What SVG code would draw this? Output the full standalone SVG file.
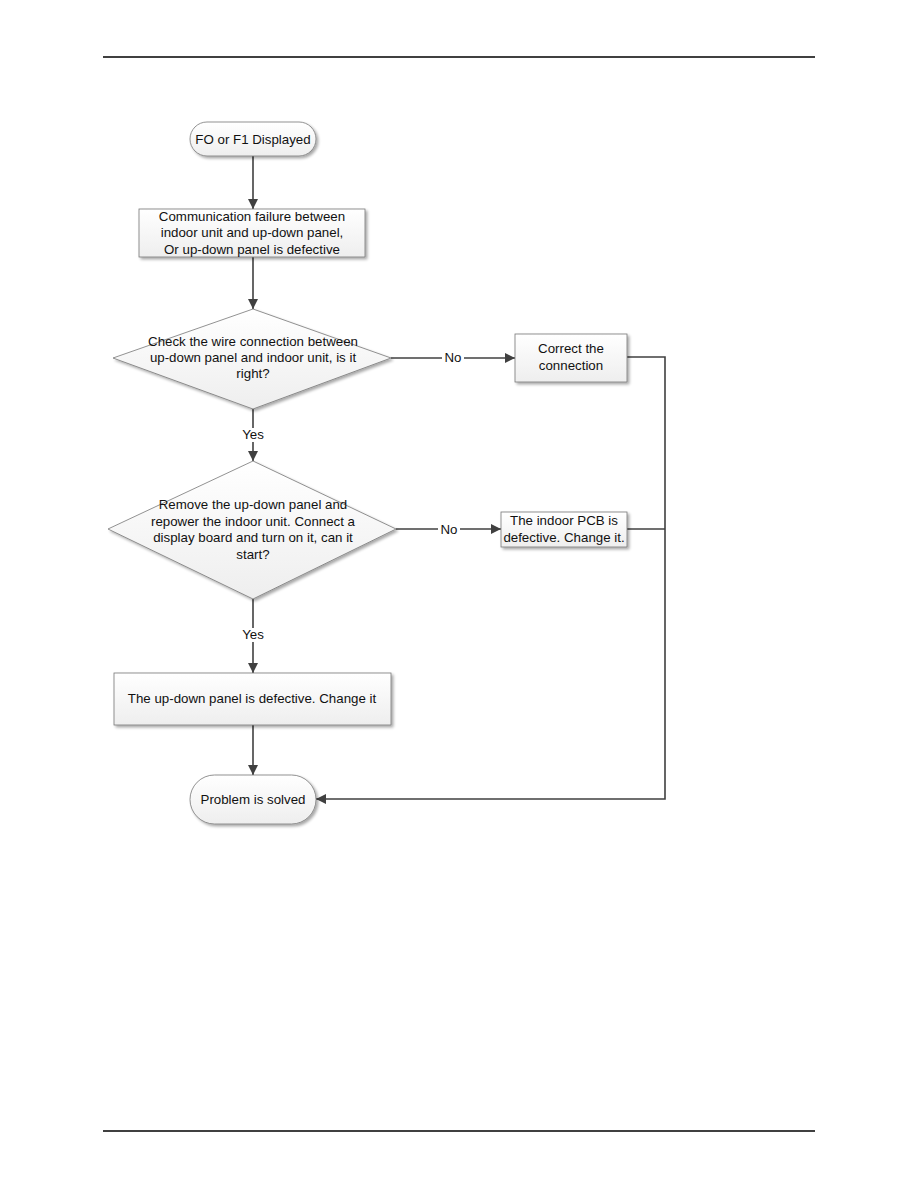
<svg xmlns="http://www.w3.org/2000/svg" width="918" height="1188" viewBox="0 0 918 1188">
<defs>
<linearGradient id="g" x1="0" y1="0" x2="0" y2="1">
<stop offset="0" stop-color="#ffffff"/>
<stop offset="1" stop-color="#eeeeee"/>
</linearGradient>
<filter id="sh" x="-10%" y="-10%" width="130%" height="140%">
<feGaussianBlur in="SourceAlpha" stdDeviation="1.5"/>
<feOffset dx="1.5" dy="2" result="o"/>
<feComponentTransfer><feFuncA type="linear" slope="0.35"/></feComponentTransfer>
<feMerge><feMergeNode/><feMergeNode in="SourceGraphic"/></feMerge>
</filter>
<marker id="ah" viewBox="0 0 10 10" refX="10" refY="5" markerWidth="10" markerHeight="10" markerUnits="userSpaceOnUse" orient="auto">
<path d="M0,0 L10,5 L0,10 z" fill="#404040"/>
</marker>
</defs>
<style>
.n{fill:url(#g);stroke:#777;stroke-width:0.8;filter:url(#sh)}
.t{font-family:"Liberation Sans",Arial,sans-serif;font-size:13.3px;fill:#111;text-anchor:middle}
.c{fill:none;stroke:#404040;stroke-width:1.6}
.lbl{font-family:"Liberation Sans",Arial,sans-serif;font-size:13.3px;fill:#111;text-anchor:middle}
</style>
<line x1="103" y1="57" x2="815" y2="57" stroke="#000" stroke-width="1.6"/>
<line x1="103" y1="1131" x2="815" y2="1131" stroke="#000" stroke-width="1.6"/>

<g id="connectors">
<line class="c" x1="253" y1="156" x2="253" y2="209" marker-end="url(#ah)"/>
<line class="c" x1="253" y1="257" x2="253" y2="309" marker-end="url(#ah)"/>
<line class="c" x1="391" y1="358" x2="515" y2="358" marker-end="url(#ah)"/>
<rect x="442" y="351" width="22" height="14" fill="#fff"/>
<text class="lbl" x="453" y="362">No</text>
<line class="c" x1="253" y1="409" x2="253" y2="461" marker-end="url(#ah)"/>
<rect x="238" y="428" width="30" height="14" fill="#fff"/>
<text class="lbl" x="253" y="439">Yes</text>
<line class="c" x1="396" y1="529" x2="501" y2="529" marker-end="url(#ah)"/>
<rect x="438" y="522" width="22" height="14" fill="#fff"/>
<text class="lbl" x="449" y="534">No</text>
<line class="c" x1="253" y1="599" x2="253" y2="673" marker-end="url(#ah)"/>
<rect x="238" y="628" width="30" height="14" fill="#fff"/>
<text class="lbl" x="253" y="639">Yes</text>
<line class="c" x1="253" y1="725" x2="253" y2="775" marker-end="url(#ah)"/>
<polyline class="c" points="627,357 665,357 665,799 316,799" marker-end="url(#ah)"/>
<line class="c" x1="627" y1="529" x2="665" y2="529"/>
</g>

<g id="start">
<rect class="n" x="190" y="122" width="126" height="34" rx="17" ry="17"/>
<text class="t" x="253" y="144">FO or F1 Displayed</text>
</g>
<g id="comm">
<rect class="n" x="139" y="209" width="226" height="48"/>
<text class="t" x="252" y="221">Communication failure between</text>
<text class="t" x="252" y="237">indoor unit and up-down panel,</text>
<text class="t" x="252" y="254">Or up-down panel is defective</text>
</g>
<g id="check">
<polygon class="n" points="253,309 391,358 253,409 113,358"/>
<text class="t" x="253" y="346">Check the wire connection between</text>
<text class="t" x="253" y="362">up-down panel and indoor unit, is it</text>
<text class="t" x="253" y="378">right?</text>
</g>
<g id="correct">
<rect class="n" x="515" y="334" width="112" height="48"/>
<text class="t" x="571" y="353">Correct the</text>
<text class="t" x="571" y="370">connection</text>
</g>
<g id="remove">
<polygon class="n" points="253,461 396,529 253,599 108,529"/>
<text class="t" x="253" y="509">Remove the up-down panel and</text>
<text class="t" x="253" y="526">repower the indoor unit. Connect a</text>
<text class="t" x="253" y="542">display board and turn on it, can it</text>
<text class="t" x="253" y="559">start?</text>
</g>
<g id="pcb">
<rect class="n" x="501" y="512" width="126" height="35"/>
<text class="t" x="564" y="525">The indoor PCB is</text>
<text class="t" x="564" y="542">defective. Change it.</text>
</g>
<g id="panel">
<rect class="n" x="114" y="673" width="277" height="52"/>
<text class="t" x="252" y="703">The up-down panel is defective. Change it</text>
</g>
<g id="end">
<rect class="n" x="190" y="775" width="126" height="49" rx="24.5" ry="24.5"/>
<text class="t" x="253" y="804">Problem is solved</text>
</g>
</svg>
